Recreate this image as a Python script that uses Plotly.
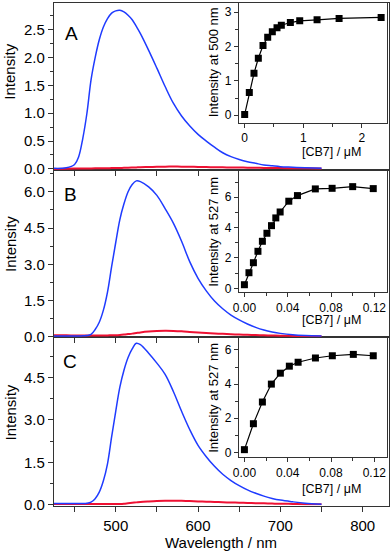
import plotly.graph_objects as go

# emission spectra (wavelength / nm)
wl = [425, 440, 450, 455, 460, 465, 470, 475, 480, 485, 490, 495, 500, 505, 510,
      515, 520, 525, 530, 540, 550, 560, 570, 580, 590, 600, 610, 620, 630, 640,
      650, 660, 670, 680, 690, 700, 715, 730, 750]

blue_a = [0.01, 0.02, 0.08, 0.22, 0.55, 1.0, 1.6, 2.0, 2.32, 2.55, 2.7, 2.8, 2.84, 2.85, 2.82,
          2.76, 2.68, 2.56, 2.43, 2.13, 1.81, 1.48, 1.18, 0.95, 0.77, 0.62, 0.5, 0.39, 0.29, 0.22,
          0.17, 0.13, 0.1, 0.07, 0.055, 0.04, 0.03, 0.02, 0.01]
red_a = [0.0, 0.003, 0.005, 0.006, 0.007, 0.008, 0.009, 0.01, 0.011, 0.012, 0.013, 0.014, 0.015, 0.017, 0.019,
         0.021, 0.024, 0.027, 0.03, 0.034, 0.038, 0.04, 0.041, 0.04, 0.038, 0.035, 0.032, 0.03, 0.028, 0.026,
         0.024, 0.022, 0.02, 0.018, 0.016, 0.014, 0.012, 0.01, 0.008]

blue_b = [0.03, 0.03, 0.03, 0.03, 0.04, 0.05, 0.1, 0.3, 0.6, 1.1, 1.85, 2.9, 3.9, 4.85, 5.5,
          6.0, 6.3, 6.45, 6.42, 6.2, 5.85, 5.3, 4.7, 3.95, 3.1, 2.42, 1.9, 1.48, 1.16, 0.9,
          0.7, 0.53, 0.39, 0.28, 0.2, 0.14, 0.08, 0.05, 0.03]
red_b = [0.06, 0.06, 0.05, 0.05, 0.05, 0.05, 0.05, 0.05, 0.05, 0.05, 0.055, 0.06, 0.065, 0.075, 0.09,
         0.11, 0.13, 0.155, 0.18, 0.215, 0.235, 0.245, 0.24, 0.225, 0.2, 0.175, 0.155, 0.135, 0.12, 0.105,
         0.09, 0.08, 0.07, 0.06, 0.05, 0.045, 0.035, 0.03, 0.02]

blue_c = [0.05, 0.05, 0.05, 0.05, 0.05, 0.06, 0.1, 0.22, 0.45, 0.85, 1.45, 2.4, 3.3, 4.15, 4.75,
          5.2, 5.5, 5.7, 5.65, 5.35, 5.0, 4.6, 4.0, 3.3, 2.65, 2.1, 1.7, 1.36, 1.08, 0.86,
          0.68, 0.53, 0.41, 0.31, 0.23, 0.17, 0.11, 0.06, 0.02]
red_c = [0.03, 0.03, 0.03, 0.03, 0.03, 0.03, 0.03, 0.03, 0.03, 0.03, 0.03, 0.03, 0.03, 0.035, 0.045,
         0.06, 0.075, 0.09, 0.105, 0.125, 0.14, 0.148, 0.15, 0.145, 0.135, 0.125, 0.115, 0.105, 0.095, 0.085,
         0.078, 0.07, 0.062, 0.055, 0.048, 0.042, 0.035, 0.028, 0.02]

# titration insets ([CB7] / uM)
cb7_a = [0, 0.079, 0.159, 0.233, 0.313, 0.393, 0.472, 0.552, 0.626, 0.78, 0.94, 1.236, 1.612, 2.33]
int_a = [0.02, 0.66, 1.22, 1.66, 2.03, 2.27, 2.43, 2.55, 2.62, 2.70, 2.75, 2.78, 2.82, 2.85]

cb7_b = [0, 0.0042, 0.0083, 0.0125, 0.0166, 0.0208, 0.025, 0.029, 0.033, 0.041, 0.049, 0.0655, 0.081, 0.1, 0.119]
int_b = [0.24, 1.03, 1.69, 2.44, 3.10, 3.63, 4.13, 4.64, 5.03, 5.74, 6.11, 6.55, 6.59, 6.70, 6.57]

cb7_c = [0, 0.0083, 0.0166, 0.0249, 0.0332, 0.0415, 0.0496, 0.0656, 0.0812, 0.1006, 0.119]
int_c = [0.16, 1.68, 2.95, 4.0, 4.64, 5.05, 5.28, 5.53, 5.66, 5.74, 5.66]

W, H = 390, 551
BLUE = "#1f3bff"
RED = "#ee1133"
AX = "#333333"
FONT = "Liberation Sans, Arial, sans-serif"


def fx(px):
    return px / W


def fy(py):
    return 1 - py / H


fig = go.Figure()

panels = [
    ("x3", "y3", blue_a, red_a),
    ("x2", "y2", blue_b, red_b),
    ("x", "y", blue_c, red_c),
]
for xa, ya, b, r in panels:
    fig.add_trace(go.Scatter(x=wl, y=r, xaxis=xa, yaxis=ya, mode="lines", line_shape="spline",
                             line=dict(color=RED, width=2), showlegend=False))
    fig.add_trace(go.Scatter(x=wl, y=b, xaxis=xa, yaxis=ya, mode="lines", line_shape="spline",
                             line=dict(color=BLUE, width=1.5), showlegend=False))

insets = [("x6", "y6", cb7_a, int_a), ("x5", "y5", cb7_b, int_b), ("x4", "y4", cb7_c, int_c)]
for xa, ya, cx, cy in insets:
    fig.add_trace(go.Scatter(x=cx, y=cy, xaxis=xa, yaxis=ya, mode="lines+markers",
                             line=dict(color="black", width=1.2),
                             marker=dict(symbol="square", size=7, color="black"),
                             showlegend=False))

common = dict(showline=True, linecolor=AX, linewidth=1.2, mirror=True, ticks="outside",
              tickcolor=AX, tickwidth=1, showgrid=False, zeroline=False, automargin=False,
              tickfont=dict(family=FONT, size=15, color="black"))

wl_ticks = list(range(450, 801, 50))
wl_text = [str(v) if v % 100 == 0 else "" for v in wl_ticks]
xdom = [fx(54), fx(389)]

layout = dict(
    width=W, height=H, margin=dict(l=0, r=0, t=0, b=0),
    paper_bgcolor="white", plot_bgcolor="white",
    xaxis=dict(common, domain=xdom, range=[425, 832], anchor="y", tickvals=wl_ticks, ticktext=wl_text,
               ticklen=5, ticklabelstandoff=1),
    xaxis2=dict(common, domain=xdom, range=[425, 832], anchor="y2", tickvals=wl_ticks, showticklabels=False, ticklen=5),
    xaxis3=dict(common, domain=xdom, range=[425, 832], anchor="y3", tickvals=wl_ticks, showticklabels=False, ticklen=5),
    yaxis=dict(common, domain=[fy(505.5), fy(337)], range=[-0.02, 5.92], anchor="x",
               tickvals=[0, 1.5, 3.0, 4.5], ticktext=["0.0", "1.5", "3.0", "4.5"], ticklen=5,
               minor=dict(dtick=0.75, ticklen=3, ticks="outside", tickcolor=AX)),
    yaxis2=dict(common, domain=[fy(337), fy(170)], range=[-0.01, 6.9], anchor="x2",
                tickvals=[0, 1.5, 3.0, 4.5, 6.0], ticktext=["0.0", "1.5", "3.0", "4.5", "6.0"], ticklen=5,
                minor=dict(dtick=0.75, ticklen=3, ticks="outside", tickcolor=AX)),
    yaxis3=dict(common, domain=[fy(170), fy(2.5)], range=[-0.02, 2.99], anchor="x3",
                tickvals=[0, 0.5, 1.0, 1.5, 2.0, 2.5], ticktext=["0.0", "0.5", "1.0", "1.5", "2.0", "2.5"], ticklen=5,
                minor=dict(dtick=0.25, ticklen=3, ticks="outside", tickcolor=AX)),
)

ins_common = dict(common, tickfont=dict(family=FONT, size=12, color="black"), ticklen=4)
ixdom = [fx(239), fx(387)]
small_x = dict(tickvals=[0, 0.04, 0.08, 0.12], ticktext=["0.00", "0.04", "0.08", "0.12"],
               minor=dict(dtick=0.02, ticklen=3, ticks="outside", tickcolor=AX))
layout.update(
    xaxis6=dict(ins_common, domain=ixdom, range=[-0.097, 2.43], anchor="y6", tickvals=[0, 1, 2],
                minor=dict(dtick=0.5, ticklen=3, ticks="outside", tickcolor=AX)),
    yaxis6=dict(ins_common, domain=[fy(122.7), fy(3)], range=[-0.22, 3.27], anchor="x6", tickvals=[0, 1, 2, 3],
                minor=dict(dtick=0.5, ticklen=3, ticks="outside", tickcolor=AX)),
    xaxis5=dict(ins_common, domain=ixdom, range=[-0.005, 0.1317], anchor="y5", **small_x),
    yaxis5=dict(ins_common, domain=[fy(292), fy(171)], range=[-0.24, 7.73], anchor="x5", tickvals=[0, 2, 4, 6],
                minor=dict(dtick=1, ticklen=3, ticks="outside", tickcolor=AX)),
    xaxis4=dict(ins_common, domain=ixdom, range=[-0.005, 0.1317], anchor="y4", **small_x),
    yaxis4=dict(ins_common, domain=[fy(457), fy(338)], range=[-0.27, 6.7], anchor="x4", tickvals=[0, 2, 4, 6],
                minor=dict(dtick=1, ticklen=3, ticks="outside", tickcolor=AX)),
)
fig.update_layout(**layout)


def note(text, x, y, size, angle=0):
    fig.add_annotation(text=text, x=fx(x), y=fy(y), xref="paper", yref="paper", showarrow=False,
                       textangle=angle, xanchor="center", yanchor="middle",
                       font=dict(family=FONT, size=size, color="black"))


note("A", 71.7, 33.3, 19)
note("B", 70, 195, 19)
note("C", 70, 361.7, 19)
for yc in (71.7, 244, 412.5):
    note("Intensity", 10, yc, 15, -90)
note("Wavelength / nm", 221, 542.5, 15)
note("Intensity at 500 nm", 213.3, 62, 13, -90)
note("Intensity at 527 nm", 213.3, 231.5, 13, -90)
note("Intensity at 527 nm", 213.3, 397.5, 13, -90)
for yc in (151.7, 320, 489):
    note("[CB7] / μM", 331, yc, 12.5)

# drop the page's default 8px body margin so the figure sits at the corner
fig.write_html("out.html", config={"displayModeBar": False},
               post_script="document.body.style.margin = '0';")
